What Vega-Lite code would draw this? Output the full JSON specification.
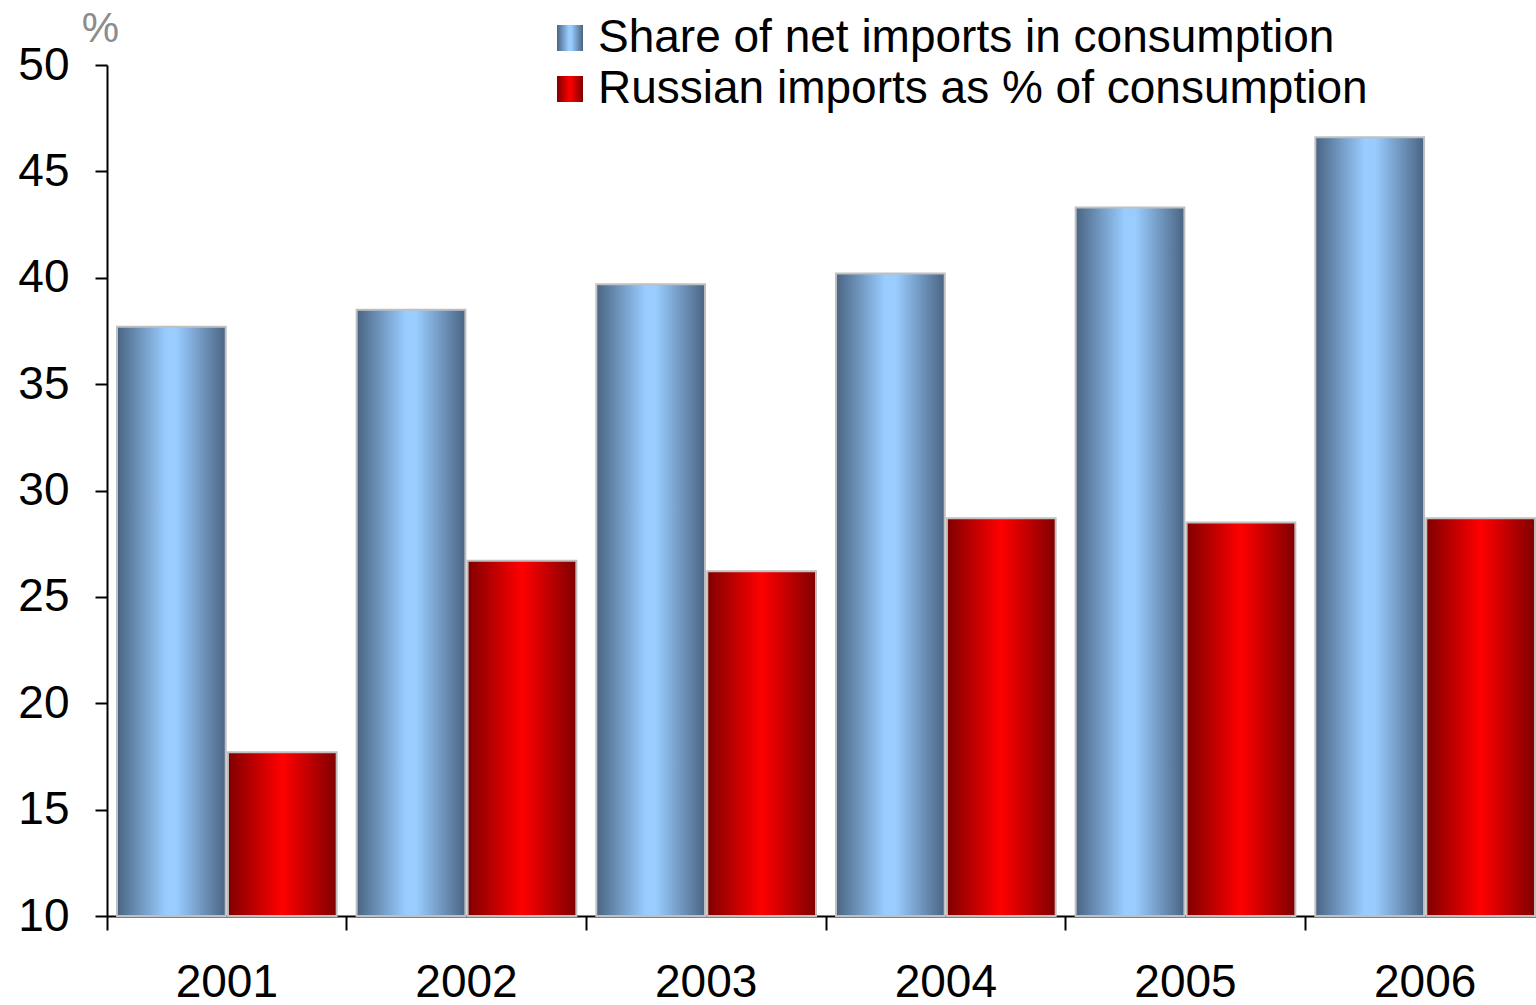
{
  "$schema": "https://vega.github.io/schema/vega-lite/v6.json",
  "autosize": "none",
  "width": 1438,
  "height": 851,
  "padding": {"left": 107, "top": 65, "right": 0, "bottom": 89},
  "background": "white",
  "config": {"view": {"stroke": null}, "font": "Liberation Sans"},
  "data": {"values": [
    {"year": "2001", "series": "Share of net imports in consumption", "value": 37.7},
    {"year": "2001", "series": "Russian imports as % of consumption", "value": 17.7},
    {"year": "2002", "series": "Share of net imports in consumption", "value": 38.5},
    {"year": "2002", "series": "Russian imports as % of consumption", "value": 26.7},
    {"year": "2003", "series": "Share of net imports in consumption", "value": 39.7},
    {"year": "2003", "series": "Russian imports as % of consumption", "value": 26.2},
    {"year": "2004", "series": "Share of net imports in consumption", "value": 40.2},
    {"year": "2004", "series": "Russian imports as % of consumption", "value": 28.7},
    {"year": "2005", "series": "Share of net imports in consumption", "value": 43.3},
    {"year": "2005", "series": "Russian imports as % of consumption", "value": 28.5},
    {"year": "2006", "series": "Share of net imports in consumption", "value": 46.6},
    {"year": "2006", "series": "Russian imports as % of consumption", "value": 28.7}
  ]},
  "encoding": {
    "x": {
      "field": "year", "type": "nominal",
      "scale": {"paddingInner": 0, "paddingOuter": 0},
      "axis": {
        "title": null, "bandPosition": 0,
        "labelAngle": 0, "labelFontSize": 46, "labelColor": "black",
        "labelPadding": 30, "tickSize": 14, "tickColor": "black", "tickWidth": 2,
        "domainColor": "black", "domainWidth": 2, "grid": false
      }
    },
    "xOffset": {
      "field": "series", "type": "nominal",
      "scale": {
        "domain": ["Share of net imports in consumption", "Russian imports as % of consumption"],
        "paddingInner": 0.02, "paddingOuter": 0.09
      }
    },
    "y": {
      "field": "value", "type": "quantitative",
      "scale": {"domain": [10, 50], "nice": false, "zero": false},
      "axis": {
        "title": "%", "titleAngle": 0, "titleX": -7, "titleY": -37,
        "titleAlign": "center", "titleBaseline": "middle",
        "titleFontSize": 42, "titleFontWeight": "normal", "titleColor": "#8c8c8c",
        "values": [10, 15, 20, 25, 30, 35, 40, 45, 50],
        "labelFontSize": 46, "labelColor": "black", "labelPadding": 26,
        "tickSize": 12, "tickColor": "black", "tickWidth": 2,
        "domainColor": "black", "domainWidth": 2, "grid": false
      }
    }
  },
  "layer": [
    {
      "transform": [{"filter": "datum.series === 'Share of net imports in consumption'"}],
      "mark": {
        "type": "bar", "stroke": "#c0c0c0", "strokeWidth": 2,
        "fill": {"gradient": "linear", "x1": 0, "y1": 0, "x2": 1, "y2": 0, "stops": [
          {"offset": 0, "color": "#4a6482"},
          {"offset": 0.45, "color": "#99ccff"},
          {"offset": 0.55, "color": "#99ccff"},
          {"offset": 1, "color": "#4a6482"}
        ]}
      },
      "encoding": {"y2": {"datum": 10}}
    },
    {
      "transform": [{"filter": "datum.series === 'Russian imports as % of consumption'"}],
      "mark": {
        "type": "bar", "stroke": "#c0c0c0", "strokeWidth": 2,
        "fill": {"gradient": "linear", "x1": 0, "y1": 0, "x2": 1, "y2": 0, "stops": [
          {"offset": 0, "color": "#800000"},
          {"offset": 0.5, "color": "#ff0000"},
          {"offset": 1, "color": "#800000"}
        ]}
      },
      "encoding": {"y2": {"datum": 10}}
    },
    {
      "mark": {
        "type": "point", "filled": true, "opacity": 0,
        "stroke": "#c0c0c0", "strokeWidth": 3,
        "fill": {"expr": "datum.value === 'Share of net imports in consumption' ? {gradient: 'linear', x1: 0, y1: 0, x2: 1, y2: 0, stops: [{offset: 0, color: '#4a6482'}, {offset: 0.45, color: '#99ccff'}, {offset: 0.55, color: '#99ccff'}, {offset: 1, color: '#4a6482'}]} : {gradient: 'linear', x1: 0, y1: 0, x2: 1, y2: 0, stops: [{offset: 0, color: '#800000'}, {offset: 0.5, color: '#ff0000'}, {offset: 1, color: '#800000'}]}"}
      },
      "encoding": {
        "shape": {
          "field": "series", "type": "nominal",
          "scale": {
            "domain": ["Share of net imports in consumption", "Russian imports as % of consumption"],
            "range": ["square", "square"]
          },
          "legend": {
            "title": null, "orient": "none", "legendX": 440, "legendY": -50,
            "symbolSize": 676, "symbolOpacity": 1,
            "symbolStrokeColor": "#c0c0c0", "symbolStrokeWidth": 3,
            "labelFontSize": 46, "labelColor": "black", "labelLimit": 1000,
            "labelOffset": 5, "rowPadding": 5
          }
        }
      }
    }
  ]
}
